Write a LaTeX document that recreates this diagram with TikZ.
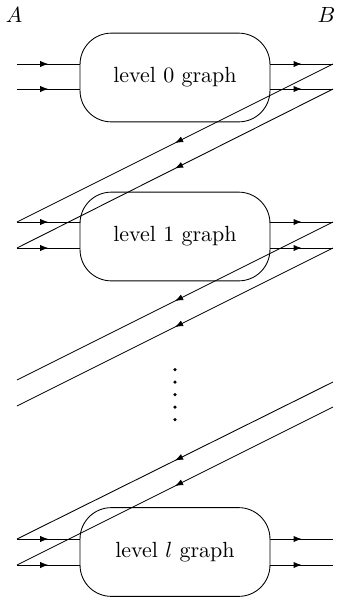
\documentclass[tikz,border=0pt]{standalone}
\usepackage{amsmath,amssymb}
\usetikzlibrary{arrows.meta,calc,decorations.markings}
\tikzset{
  graphbox/.style={draw,rounded corners=0.5cm,minimum width=3.04cm,minimum height=1.42cm,inner sep=0pt},
  flow/.style={postaction={decorate},decoration={markings,
    mark=at position 0.5 with {\arrow{Latex[length=1.3mm,width=1mm]}}}},
}

\begin{document}
\begin{tikzpicture}[x=0.016cm,y=-0.016cm,thin]
  \useasboundingbox (0,0) rectangle (338,597);
  \node (A) at (14,15) {$A$};
  \node[anchor=east,inner sep=1pt] (B) at (338,15) {$B$};
  % the three level graphs
  \node[graphbox] (lev0) at (175,77.5) {level 0 graph};
  \node[graphbox] (lev1) at (175,236.5) {level 1 graph};
  \node[graphbox] (levl) at (175,552) {level $l$ graph};
  % ends of the lines at the A side and the B side
  \coordinate (in0a) at (17,64);   \coordinate (in0b) at (17,89);
  \coordinate (out0a) at (333,64); \coordinate (out0b) at (333,89);
  \coordinate (in1a) at (17,222);  \coordinate (in1b) at (17,248);
  \coordinate (out1a) at (333,222);\coordinate (out1b) at (333,248);
  \coordinate (gap1a) at (17,380); \coordinate (gap1b) at (17,406);
  \coordinate (gap2a) at (333,382);\coordinate (gap2b) at (333,407);
  \coordinate (inla) at (17,539);  \coordinate (inlb) at (17,565);
  \coordinate (outla) at (333,539);\coordinate (outlb) at (333,565);
  % inputs and outputs
  \foreach \g/\i/\o in {lev0/in0/out0,lev1/in1/out1,levl/inl/outl}{
    \draw[flow] (\i a) -- (\i a -| \g.west);
    \draw[flow] (\i b) -- (\i b -| \g.west);
    \draw[flow] (\o a -| \g.east) -- (\o a);
    \draw[flow] (\o b -| \g.east) -- (\o b);
  }
  % wrap from B back to A
  \draw[flow] (out0a) -- (in1a);
  \draw[flow] (out0b) -- (in1b);
  \draw[flow] (out1a) -- (gap1a);
  \draw[flow] (out1b) -- (gap1b);
  \draw[flow] (gap2a) -- (inla);
  \draw[flow] (gap2b) -- (inlb);
  \foreach \y in {369.5,382,394.5,407,419.5}
    \fill (175,\y) circle (0.8pt);
\end{tikzpicture}
\end{document}
